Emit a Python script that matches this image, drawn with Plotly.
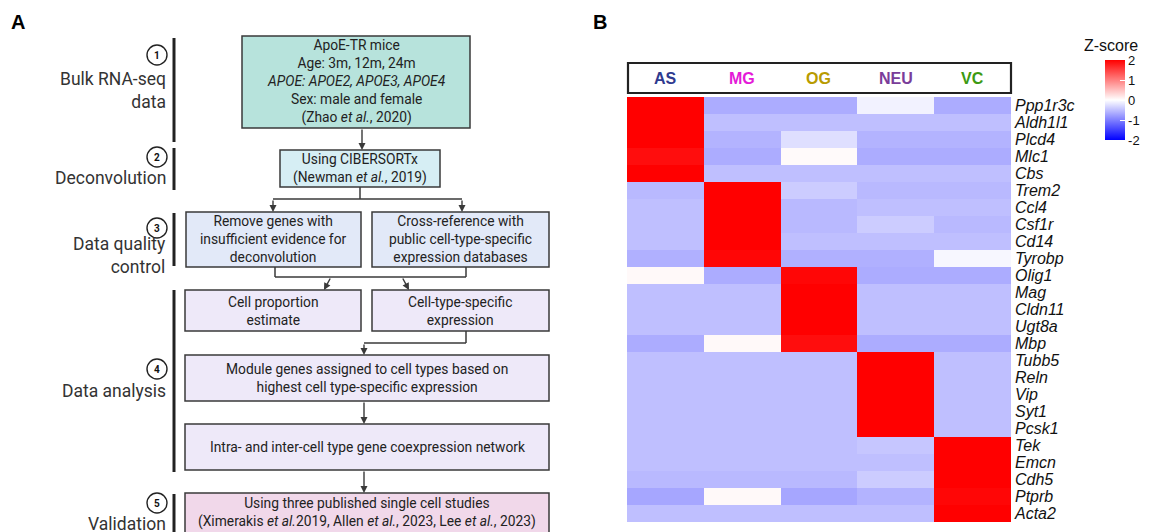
import plotly.graph_objects as go

# ---------------- data ----------------
cell_types = ["AS", "MG", "OG", "NEU", "VC"]
cell_colors = ["#2f3a8f", "#e41ad8", "#b89b00", "#7a3d9a", "#3c9a12"]
genes = ["Ppp1r3c", "Aldh1l1", "Plcd4", "Mlc1", "Cbs",
         "Trem2", "Ccl4", "Csf1r", "Cd14", "Tyrobp",
         "Olig1", "Mag", "Cldn11", "Ugt8a", "Mbp",
         "Tubb5", "Reln", "Vip", "Syt1", "Pcsk1",
         "Tek", "Emcn", "Cdh5", "Ptprb", "Acta2"]
zscore = [
    [2.00, -0.65, -0.65, -0.10, -0.65],
    [2.00, -0.50, -0.50, -0.50, -0.50],
    [2.00, -0.60, -0.25, -0.60, -0.60],
    [1.90, -0.65, 0.04, -0.65, -0.65],
    [2.00, -0.50, -0.50, -0.50, -0.50],
    [-0.55, 2.00, -0.40, -0.55, -0.55],
    [-0.50, 2.00, -0.55, -0.50, -0.50],
    [-0.50, 2.00, -0.55, -0.40, -0.55],
    [-0.50, 2.00, -0.50, -0.50, -0.50],
    [-0.62, 1.95, -0.62, -0.62, -0.06],
    [0.05, -0.65, 1.95, -0.65, -0.65],
    [-0.50, -0.50, 2.00, -0.50, -0.50],
    [-0.50, -0.50, 2.00, -0.50, -0.50],
    [-0.50, -0.50, 2.00, -0.50, -0.50],
    [-0.65, 0.05, 1.90, -0.65, -0.65],
    [-0.50, -0.50, -0.50, 2.00, -0.50],
    [-0.50, -0.50, -0.50, 2.00, -0.50],
    [-0.50, -0.50, -0.50, 2.00, -0.50],
    [-0.50, -0.50, -0.50, 2.00, -0.50],
    [-0.50, -0.50, -0.50, 2.00, -0.50],
    [-0.50, -0.50, -0.50, -0.45, 2.00],
    [-0.50, -0.50, -0.50, -0.50, 2.00],
    [-0.55, -0.55, -0.55, -0.40, 2.00],
    [-0.70, 0.05, -0.70, -0.60, 1.95],
    [-0.50, -0.50, -0.50, -0.50, 2.00],
]
z_ticks = [-2, -1, 0, 1, 2]
z_tick_text = ["-2", "-1", "0", "1", "2"]

W, H = 1159, 532
OX, OY = 8, 8          # page body margin of the browser
FW, FH = W - OX, H - OY
FA = "Roboto"
FB = "Liberation Sans"
LINE = "#3a3a3a"
BS = 13.8              # box text size


def px(x):
    return (x - OX) / FW


def py(y):
    return 1 - (y - OY) / FH


fig = go.Figure()
fig.add_trace(go.Heatmap(
    z=zscore, x=cell_types, y=genes, xaxis="x2", yaxis="y2",
    zmin=-2, zmax=2,
    colorscale=[[0, "#0000ff"], [0.5, "#ffffff"], [1, "#ff0000"]],
    colorbar=dict(x=px(1105), xanchor="left", y=py(100), yanchor="middle",
                  len=80, lenmode="pixels", thickness=20, xpad=0, ypad=0,
                  outlinewidth=0, tickmode="array", tickvals=z_ticks,
                  ticktext=z_tick_text, ticks="inside", ticklen=5,
                  tickcolor="white", tickwidth=1,
                  tickfont=dict(family=FB, size=13, color="#111")),
    hoverinfo="skip"))
fig.add_trace(go.Scatter(x=[100], y=[100], mode="markers", marker=dict(opacity=0),
                         hoverinfo="skip", showlegend=False))

shapes = []
ann = []


def box(x0, y0, x1, y1, fill):
    shapes.append(dict(type="rect", xref="x", yref="y", x0=x0, y0=y0, x1=x1, y1=y1,
                       fillcolor=fill, line=dict(color=LINE, width=1.5)))


def text(x, y, t, size=BS, anchor="center", align="center", font=FA, color="#222"):
    ann.append(dict(xref="x", yref="y", x=x, y=y, text=t, showarrow=False,
                    xanchor=anchor, yanchor="middle", align=align,
                    font=dict(family=font, size=size, color=color)))


def line(x0, y0, x1, y1, w=1.5, c=LINE):
    shapes.append(dict(type="line", xref="x", yref="y", x0=x0, y0=y0, x1=x1, y1=y1,
                       line=dict(color=c, width=w)))


def arrow(xt, yt, xh, yh):
    ann.append(dict(xref="x", yref="y", axref="x", ayref="y", x=xh, y=yh, ax=xt, ay=yt,
                    text="", showarrow=True, arrowhead=2, arrowsize=1, arrowwidth=1.4,
                    arrowcolor=LINE, standoff=0, startstandoff=0))


def step(cx, cy, n, label, y_label, bar0, bar1):
    shapes.append(dict(type="circle", xref="x", yref="y", x0=cx - 10, y0=cy - 10,
                       x1=cx + 10, y1=cy + 10, line=dict(color="#222", width=1.4),
                       fillcolor="white"))
    text(cx, cy, "<b>%d</b>" % n, size=10, color="#111")
    text(168, y_label, label, size=17.5, anchor="right", align="right", color="#333")
    line(174, bar0, 174, bar1, w=3, c="#222")


# panel labels
text(18, 22, "<b>A</b>", size=20, font=FB, color="#000")
text(600, 22, "<b>B</b>", size=20, font=FB, color="#000")

# step 1
box(242, 36, 470, 128, "#b7e3dc")
text(356, 81, "ApoE-TR mice<br>Age: 3m, 12m, 24m<br><i>APOE: APOE2, APOE3, APOE4</i>"
              "<br>Sex: male and female<br>(Zhao <i>et al.</i>, 2020)")
step(157, 55, 1, "Bulk RNA-seq<br>data", 90, 38, 142)
arrow(362, 128, 362, 150)

# step 2
box(280, 150, 440, 187, "#d6eef4")
text(360, 168, "Using CIBERSORTx<br>(Newman <i>et al.</i>, 2019)")
step(157, 157, 2, "Deconvolution", 178, 148, 190)
line(360, 187, 360, 199)
line(273, 199, 462, 199)
arrow(273, 199, 273, 212)
arrow(462, 199, 462, 212)

# step 3
box(186, 212, 361, 267, "#e2e9f8")
box(372, 212, 549, 267, "#e2e9f8")
text(273, 239, "Remove genes with<br>insufficient evidence for<br>deconvolution")
text(460, 239, "Cross-reference with<br>public cell-type-specific<br>expression databases")
step(157, 228, 3, "Data quality<br>control", 255, 213, 266)
line(275, 267, 275, 277)
line(275, 277, 466, 277)
line(466, 267, 466, 277)
arrow(331, 277, 324, 290)
arrow(402, 277, 409, 290)

# step 4
box(185, 290, 361, 331, "#eee9f9")
box(372, 290, 549, 331, "#eee9f9")
text(273, 311, "Cell proportion<br>estimate")
text(460, 311, "Cell-type-specific<br>expression")
line(466, 331, 466, 343)
line(364, 343, 466, 343)
arrow(364, 343, 364, 355)
box(185, 355, 549, 401, "#eee9f9")
text(367, 378, "Module genes assigned to cell types based on<br>highest cell type-specific expression")
arrow(364, 401, 364, 424)
box(185, 424, 549, 470, "#eee9f9")
text(367, 447, "Intra- and inter-cell type gene coexpression network")
step(157, 369, 4, "Data analysis", 391, 290, 472)
arrow(364, 470, 364, 493)

# step 5
box(185, 493, 549, 545, "#f1d8ea")
text(367, 512, "Using three published single cell studies<br>(Ximerakis <i>et al.</i>2019, "
               "Allen <i>et al.</i>, 2023, Lee <i>et al.</i>, 2023)")
step(157, 503, 5, "Validation", 524, 494, 540)

# panel B header
shapes.append(dict(type="rect", xref="x", yref="y", x0=628, y0=63, x1=1011, y1=93,
                   fillcolor="white", line=dict(color="#222", width=2.2)))
for ct, col in zip(cell_types, cell_colors):
    ann.append(dict(xref="x2", yref="y", x=ct, y=78, text="<b>%s</b>" % ct,
                    showarrow=False, font=dict(family=FB, size=16, color=col)))
text(1111, 45, "Z-score", size=16, font=FB, color="#111")

fig.update_layout(
    width=FW, height=FH, margin=dict(l=0, r=0, t=0, b=0),
    paper_bgcolor="white", plot_bgcolor="white", showlegend=False,
    xaxis=dict(range=[OX, W], domain=[0, 1], visible=False, fixedrange=True),
    yaxis=dict(range=[H, OY], domain=[0, 1], visible=False, fixedrange=True),
    xaxis2=dict(domain=[px(627), px(1011)], anchor="y2", showticklabels=False,
                ticks="", showgrid=False, zeroline=False),
    yaxis2=dict(domain=[py(522), py(97)], anchor="x2", side="right",
                autorange="reversed", ticks="", showgrid=False, zeroline=False,
                tickmode="array", tickvals=genes,
                ticktext=["<i>%s</i>" % g for g in genes],
                tickfont=dict(family=FB, size=16, color="#111"),
                ticklabelstandoff=3),
    shapes=shapes, annotations=ann,
)

fig.write_html("out.html")
